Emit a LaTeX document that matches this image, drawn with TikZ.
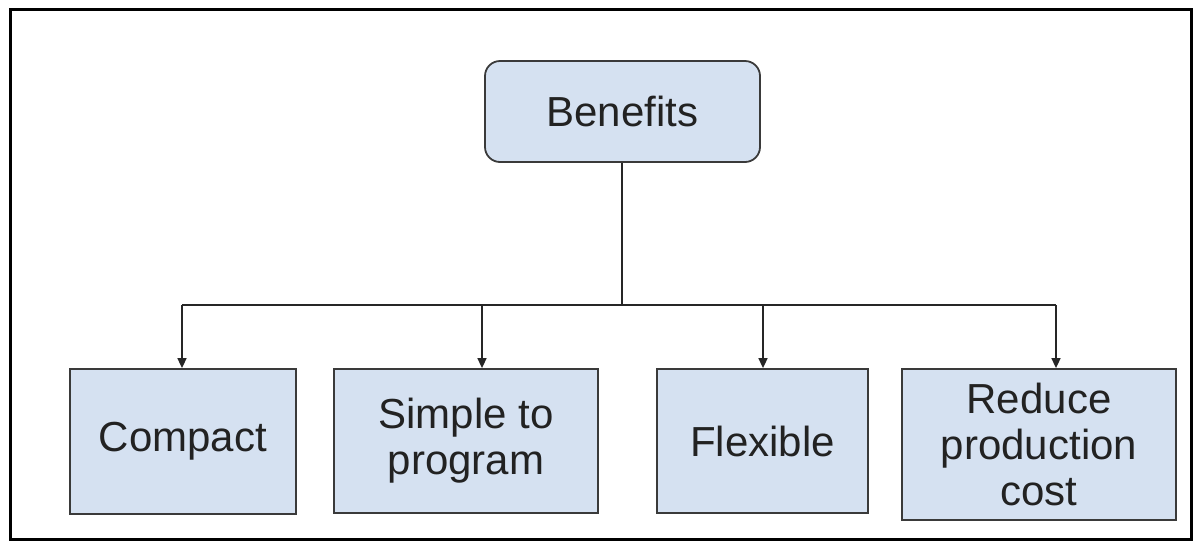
\documentclass[tikz,border=0pt]{standalone}
\usepackage{fontspec}
\setmainfont{Liberation Sans}
\usetikzlibrary{arrows.meta}
\definecolor{boxfill}{HTML}{D5E1F1}
\definecolor{boxline}{HTML}{3A3A3A}
\definecolor{textcol}{HTML}{222222}
\begin{document}
\begin{tikzpicture}[x=1pt,y=-1pt,
  item/.style={draw=boxline,fill=boxfill,line width=1.8pt,inner sep=0pt,
    align=center,text=textcol,font=\fontsize{42}{46}\selectfont},
  link/.style={draw=black!85,line width=1.6pt},
  arr/.style={link,-{Triangle[length=10pt,width=9pt]}}]
\useasboundingbox (0,0) rectangle (1194,542);
% outer frame
\draw[line width=3pt] (10.5,9) rectangle (1191,539);

% root
\node[item,rounded corners=15pt,minimum width=275pt,minimum height=101pt]
  (root) at (622.5,111.5) {Benefits};

% leaves
\node[item,minimum width=226pt,minimum height=145pt] (compact) at (183,441.5) {Compact};
\node[item,minimum width=264pt,minimum height=144pt] (simple) at (466,441) {Simple to\\program};
\node[item,minimum width=211pt,minimum height=144pt] (flex) at (762.5,441) {Flexible};
\node[item,minimum width=274pt,minimum height=151pt] (cost) at (1039,444.5) {Reduce\\production\\cost};

% branching bus
\coordinate (hub) at (622,305);
\coordinate (b1) at (182,305);
\coordinate (b2) at (482,305);
\coordinate (b3) at (763,305);
\coordinate (b4) at (1056,305);
\draw[link] (root.south -| hub) -- (hub);
\draw[link] (b1) -- (b4);
\draw[arr] (b1) -- (b1 |- compact.north);
\draw[arr] (b2) -- (b2 |- simple.north);
\draw[arr] (b3) -- (b3 |- flex.north);
\draw[arr] (b4) -- (b4 |- cost.north);
\end{tikzpicture}
\end{document}
